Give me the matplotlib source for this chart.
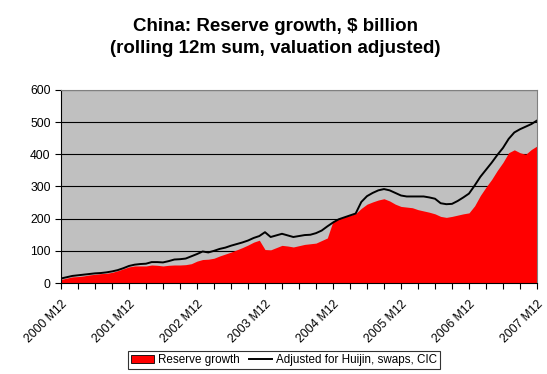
import matplotlib
matplotlib.use("Agg")
import matplotlib.pyplot as plt
import numpy as np

plt.rcParams["font.family"] = ["Liberation Sans", "DejaVu Sans"]

# monthly, 2000 M12 .. 2007 M12 (rolling 12m sums, $ bn)
months = [f"{y} M{m}" for y in range(2000, 2008) for m in range(1, 13)][11:]
reserve_growth = [
    11, 15, 19, 20, 22, 25, 27, 29, 30, 33, 38, 44, 50,
    53, 53, 53, 56, 55, 53, 55, 56, 56, 57, 60, 68,
    73, 74, 77, 84, 90, 96, 103, 110, 118, 127, 133, 104,
    103, 110, 117, 115, 112, 116, 120, 122, 124, 132, 140, 192,
    198, 205, 210, 216, 232, 245, 252, 258, 262, 255, 245, 238,
    236, 234, 228, 224, 220, 215, 207, 204, 207, 211, 215, 218,
    240, 272, 298, 322, 350, 375, 405, 414, 405, 400, 415, 426,
]
adjusted = [
    14, 18, 22, 24, 26, 28, 30, 31, 33, 36, 40, 46, 53,
    57, 59, 60, 65, 65, 64, 68, 73, 74, 76, 83, 90,
    98, 95, 100, 106, 110, 116, 121, 126, 132, 140, 146, 158,
    143, 148, 153, 148, 143, 146, 149, 150, 155, 163, 176, 188,
    198, 204, 210, 216, 252, 270, 280, 288, 292, 288, 280, 272,
    269, 269, 269, 269, 266, 262, 248, 245, 246, 255, 266, 278,
    303, 330, 352, 374, 398, 420, 448, 468, 478, 486, 494, 505,
]

x = np.arange(len(months))

fig = plt.figure(figsize=(5.47, 3.74), dpi=100)
ax = fig.add_axes([0.1115, 0.2433, 0.8702, 0.5161])
ax.set_facecolor("#C0C0C0")

ax.fill_between(x, 0, reserve_growth, color="#FF0000", lw=0, label="Reserve growth")
ax.plot(x, adjusted, color="black", lw=1.4, label="Adjusted for Huijin, swaps, CIC")

ax.set_xlim(0, len(months) - 1)
ax.set_ylim(0, 600)
ax.set_yticks(range(0, 601, 100))
ax.yaxis.grid(True, color="black", lw=0.8)
ax.set_axisbelow(True)

ax.set_xticks(x[::12])
ax.set_xticklabels([months[i] for i in x[::12]], rotation=45, ha="right",
                   rotation_mode="anchor")
ax.set_xticks(x[::3], minor=True)
ax.tick_params(axis="both", labelsize=8.7, length=4, width=0.8, color="black")
ax.tick_params(axis="x", which="minor", length=4, width=0.8)
ax.tick_params(axis="x", pad=7)

for s in ["top", "right"]:
    ax.spines[s].set_color("#808080")
for s in ["left", "bottom"]:
    ax.spines[s].set_color("black")

fig.text(0.503, 0.90, "China: Reserve growth, $ billion\n(rolling 12m sum, valuation adjusted)",
         ha="center", va="center", fontsize=13.5, fontweight="bold", linespacing=1.38)

leg = fig.legend(loc="center", bbox_to_anchor=(0.519, 0.037), ncol=2, fontsize=8.4,
                 frameon=True, fancybox=False, edgecolor="black", borderpad=0.25,
                 handlelength=2.0, handletextpad=0.3, columnspacing=0.8)
leg.get_frame().set_linewidth(0.8)
for h in leg.legend_handles[:1]:
    h.set_edgecolor("black")
    h.set_linewidth(0.6)

fig.savefig("out.png", dpi=100)
